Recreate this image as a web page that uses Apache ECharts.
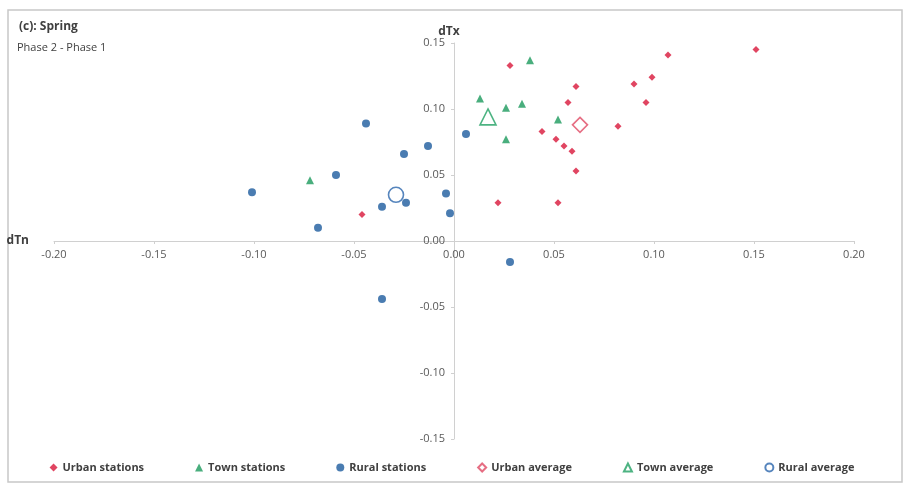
<!DOCTYPE html>
<html>
<head>
<meta charset="utf-8">
<script src="https://cdn.jsdelivr.net/npm/echarts@6/dist/echarts.min.js"></script>
<style>
  html, body { margin: 0; padding: 0; background: #fff; }
  #main { width: 904px; height: 485px; }
</style>
</head>
<body>
<div id="main"></div>
<script>
// values: [dTn, dTx]
var urbanStations = [
  [0.028, 0.133], [0.061, 0.117], [0.107, 0.141], [0.151, 0.145],
  [0.099, 0.124], [0.090, 0.119], [0.096, 0.105], [0.057, 0.105],
  [0.044, 0.083], [0.051, 0.077], [0.055, 0.072], [0.059, 0.068],
  [0.061, 0.053], [0.022, 0.029], [0.052, 0.029], [0.082, 0.087],
  [-0.046, 0.020]
];
var townStations = [
  [0.013, 0.108], [0.026, 0.101], [0.034, 0.104], [0.052, 0.092],
  [0.026, 0.077], [0.038, 0.137], [-0.072, 0.046]
];
var ruralStations = [
  [-0.044, 0.089], [0.006, 0.081], [-0.013, 0.072], [-0.025, 0.066],
  [-0.059, 0.050], [-0.101, 0.037], [-0.004, 0.036], [-0.024, 0.029],
  [-0.036, 0.026], [-0.002, 0.021], [-0.068, 0.010], [-0.036, -0.044],
  [0.028, -0.016]
];
var urbanAverage = [[0.063, 0.088]];
var townAverage = [[0.017, 0.094]];
var ruralAverage = [[-0.029, 0.035]];

var xTicks = [-0.20, -0.15, -0.10, -0.05, 0.00, 0.05, 0.10, 0.15, 0.20];
var yTicks = [-0.15, -0.10, -0.05, 0.00, 0.05, 0.10, 0.15];

var RED = '#d8163a', GREEN = '#1c9a5c', BLUE = '#1d5b9e';

// grid box, the axes are pushed into the middle (both ranges are symmetric)
var G = { left: 54, right: 50, top: 43, bottom: 46 };
var plotW = 904 - G.left - G.right, plotH = 485 - G.top - G.bottom;

var myChart = echarts.init(document.getElementById('main'));

function pts(name, data, symbol, size, color, hollow) {
  return {
    name: name,
    type: 'scatter',
    data: data,
    symbol: symbol,
    symbolSize: size,
    z: hollow ? 3 : 2,
    itemStyle: hollow
      ? { color: 'rgba(255,255,255,0)', borderColor: color, borderWidth: 1.6 }
      : { color: color }
  };
}

myChart.setOption({
  animation: false,
  textStyle: { fontFamily: 'Open Sans, Noto Sans, sans-serif' },
  graphic: [
    { type: 'rect', shape: { x: 8, y: 10, width: 894, height: 472 },
      style: { fill: 'none', stroke: '#c8c8c8', lineWidth: 1.5 } },
    { type: 'text', left: 19, top: 21,
      style: { text: '(c): Spring', font: 'bold 12px Open Sans', fill: '#404040' } },
    { type: 'text', left: 17, top: 42,
      style: { text: 'Phase 2 - Phase 1', font: '11px Open Sans', fill: '#404040' } }
  ],
  grid: G,
  legend: {
    bottom: 7,
    left: 'center',
    itemGap: 51,
    itemWidth: 8,
    itemHeight: 8,
    textStyle: { fontSize: 11, color: '#404040', fontWeight: 'bold' },
    data: ['Urban stations', 'Town stations', 'Rural stations',
      'Urban average', 'Town average', 'Rural average']
  },
  xAxis: {
    type: 'value',
    position: 'bottom',
    offset: -plotH / 2,
    min: xTicks[0],
    max: xTicks[xTicks.length - 1],
    interval: 0.05,
    name: 'dTn',
    nameLocation: 'start',
    nameGap: 25,
    nameTextStyle: { fontWeight: 'bold', fontSize: 12, color: '#404040', verticalAlign: 'middle' },
    splitLine: { show: false },
    axisLine: { onZero: false, lineStyle: { color: '#d0d0d0' } },
    axisTick: { show: true, length: 3, lineStyle: { color: '#d0d0d0' } },
    axisLabel: { fontSize: 11, color: '#595959', margin: 8,
      formatter: function (v) { return v.toFixed(2); } }
  },
  yAxis: {
    type: 'value',
    position: 'left',
    offset: -plotW / 2,
    min: yTicks[0],
    max: yTicks[yTicks.length - 1],
    interval: 0.05,
    name: 'dTx',
    nameLocation: 'end',
    nameGap: 5,
    nameTextStyle: { fontWeight: 'bold', fontSize: 12, color: '#404040', padding: [0, 10, 0, 0] },
    splitLine: { show: false },
    axisLine: { onZero: false, lineStyle: { color: '#d0d0d0' } },
    axisTick: { show: true, length: 3, lineStyle: { color: '#d0d0d0' } },
    axisLabel: { fontSize: 11, color: '#595959', margin: 9,
      formatter: function (v) { return v.toFixed(2); } }
  },
  series: [
    pts('Urban stations', urbanStations, 'diamond', 7, RED, false),
    pts('Town stations', townStations, 'triangle', 8, GREEN, false),
    pts('Rural stations', ruralStations, 'circle', 8, BLUE, false),
    pts('Urban average', urbanAverage, 'diamond', 15, '#e04a64', true),
    pts('Town average', townAverage, 'triangle', 16, '#20a063', true),
    pts('Rural average', ruralAverage, 'circle', 15, '#2c66ad', true)
  ]
});
</script>
</body>
</html>
